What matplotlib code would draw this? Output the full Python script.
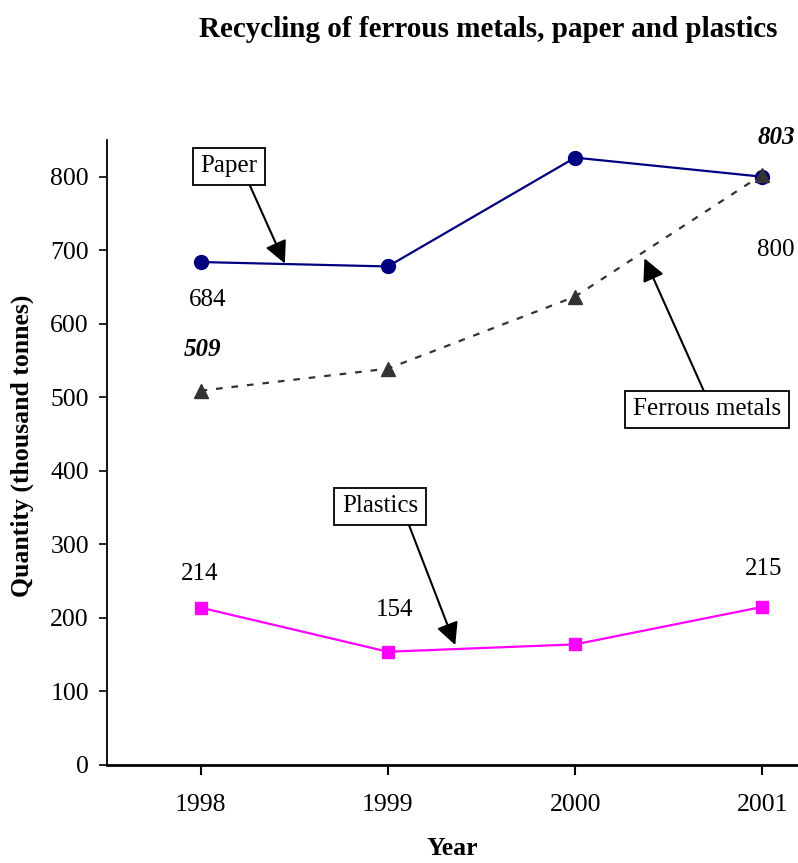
import matplotlib.pyplot as plt

plt.rcParams['font.family'] = 'Liberation Serif'

# data (thousand tonnes)
years = ['1998', '1999', '2000', '2001']
paper = [684, 678, 826, 800]
ferrous = [509, 539, 637, 803]
plastics = [214, 154, 164, 215]

fig = plt.figure(figsize=(7.98, 8.63), dpi=100)
ax = fig.add_axes([0.134, 0.1136, 0.866, 0.7242])

x = range(len(years))
ax.plot(x, paper, color='#000080', lw=1.6, marker='o', ms=10, zorder=3)
ax.plot(x, ferrous, color='#333333', lw=1.6, ls=(0, (3, 4)), marker='^', ms=10, zorder=4)
ax.plot(x, plastics, color='#ff00ff', lw=1.6, marker='s', ms=9, zorder=3)

ax.set_xlim(-0.5, 3.19)
ax.set_ylim(0, 850)
ax.set_xticks(list(x))
ax.set_xticklabels(years)
ax.set_yticks(range(0, 900, 100))
ax.tick_params(axis='both', labelsize=18.5, direction='out', color='black')
ax.tick_params(axis='x', length=7, width=1.5, pad=14)
ax.tick_params(axis='y', length=6, width=1.2, pad=7)
for s in ['top', 'right']:
    ax.spines[s].set_visible(False)
ax.spines['left'].set_linewidth(1.3)
ax.spines['bottom'].set_linewidth(2)

ax.set_xlabel('Year', fontsize=18.5, fontweight='bold', labelpad=15)
ax.set_ylabel('Quantity (thousand tonnes)', fontsize=18.5, fontweight='bold')
ax.yaxis.set_label_coords(-0.106, 0.51)

fig.text(0.612, 0.966, 'Recycling of ferrous metals, paper and plastics',
         ha='center', va='center', fontsize=21, fontweight='bold')

# value labels
def lab(i, v, dx, dy, text, **kw):
    ax.annotate(text, (i, v), xytext=(dx, dy), textcoords='offset pixels',
                ha='center', va='center', fontsize=18, **kw)

lab(0, paper[0], 7, -38, '684')
lab(3, paper[3], 13, -73, '800')
lab(0, ferrous[0], 2, 41, '509', fontstyle='italic', fontweight='bold')
lab(3, ferrous[3], 14, 37, '803', fontstyle='italic', fontweight='bold')
lab(0, plastics[0], -1, 34, '214')
lab(1, plastics[1], 7, 42, '154')
lab(3, plastics[3], 1, 38, '215')

# callout boxes with arrows
box = dict(boxstyle='square,pad=0.3', fc='white', ec='black', lw=1.3)
def callout(text, target, pos, rel):
    ax.annotate(text, target, xytext=pos, textcoords='figure pixels',
                ha='center', va='center', fontsize=18, bbox=box,
                arrowprops=dict(arrowstyle='-|>,head_length=0.9,head_width=0.45',
                                mutation_scale=15, color='black', lw=1.5,
                                relpos=rel, shrinkA=0, shrinkB=0))

callout('Paper', (0.45, 682), (229, 697), (0.8, 0))
callout('Ferrous metals', (2.37, 689), (707, 454), (0.5, 1))
callout('Plastics', (1.36, 163), (380, 357), (0.84, 0))

fig.savefig('out.png', dpi=100)
